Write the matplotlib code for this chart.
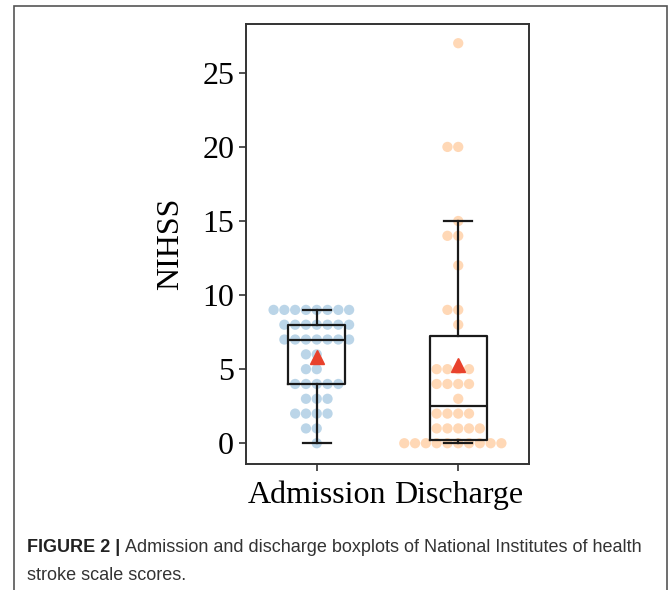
import numpy as np
import pandas as pd
import matplotlib
matplotlib.use("Agg")
import matplotlib.pyplot as plt
import seaborn as sns
from matplotlib.patches import Rectangle

groups = ["Admission", "Discharge"]

admission = [9, 9, 9, 9, 9, 9, 9, 9,
             8, 8, 8, 8, 8, 8, 8,
             7, 7, 7, 7, 7, 7, 7,
             6, 6, 5, 5,
             4, 4, 4, 4, 4,
             3, 3, 3,
             2, 2, 2, 2,
             1, 1, 0]
discharge = [27, 20, 20, 15, 14, 14, 12, 9, 9, 8,
             5, 5, 5, 5,
             4, 4, 4, 4,
             3,
             2, 2, 2, 2,
             1, 1, 1, 1, 1,
             0, 0, 0, 0, 0, 0, 0, 0, 0, 0]

yticks = [0, 5, 10, 15, 20, 25]

df = pd.DataFrame({
    "group": ["Admission"] * len(admission) + ["Discharge"] * len(discharge),
    "NIHSS": admission + discharge,
})

fig = plt.figure(figsize=(6.69, 5.90), dpi=100)
ax = fig.add_axes([0.3677, 0.2136, 0.423, 0.7458])

sns.swarmplot(data=df, x="group", y="NIHSS", hue="group",
              palette=["#1f77b4", "#ff7f0e"], alpha=0.3, size=7.4,
              linewidth=0, legend=False, ax=ax, zorder=1)

ax.boxplot([admission, discharge], positions=[0, 1], widths=0.4,
           showfliers=False, showmeans=True, whis=1.5,
           boxprops=dict(color="#1a1a1a", linewidth=1.6),
           whiskerprops=dict(color="#1a1a1a", linewidth=1.6),
           capprops=dict(color="#1a1a1a", linewidth=1.6),
           medianprops=dict(color="#1a1a1a", linewidth=1.6),
           meanprops=dict(marker="^", markerfacecolor="#e8412c",
                          markeredgecolor="#e8412c", markersize=10.5),
           zorder=3)

serif = "Liberation Serif"
ax.set_xlim(-0.5, 1.5)
ax.set_ylim(-1.4, 28.3)
ax.set_xticks([0, 1])
ax.set_xticklabels(groups, fontsize=23, family=serif)
ax.set_yticks(yticks)
ax.set_yticklabels([str(t) for t in yticks], fontsize=23, family=serif)
ax.set_xlabel("")
ax.set_ylabel("NIHSS", fontsize=23, family=serif, labelpad=12)
ax.tick_params(length=5, width=1.2, color="#333333")
ax.tick_params(axis="x", pad=7)
for s in ax.spines.values():
    s.set_linewidth(1.4)
    s.set_color("#333333")

# outer frame around the figure panel
fig.patches.append(Rectangle((14 / 669, -0.05), 653 / 669, 1 - 6 / 590 + 0.05,
                             transform=fig.transFigure, fill=False,
                             edgecolor="#555555", linewidth=1.2))

cap_font = "Liberation Sans"
cap_size = 13
t1 = fig.text(27 / 669, 1 - 548 / 590, "FIGURE 2 |", fontsize=cap_size,
              family=cap_font, weight="bold", va="center", color="#222222")
fig.canvas.draw()
bb = t1.get_window_extent()
fig.text((bb.x1 + 5) / 669, 1 - 548 / 590,
         "Admission and discharge boxplots of National Institutes of health",
         fontsize=cap_size, family=cap_font, va="center", color="#333333")
fig.text(27 / 669, 1 - 575 / 590, "stroke scale scores.", fontsize=cap_size,
         family=cap_font, va="center", color="#333333")

fig.savefig("out.png", dpi=100)
